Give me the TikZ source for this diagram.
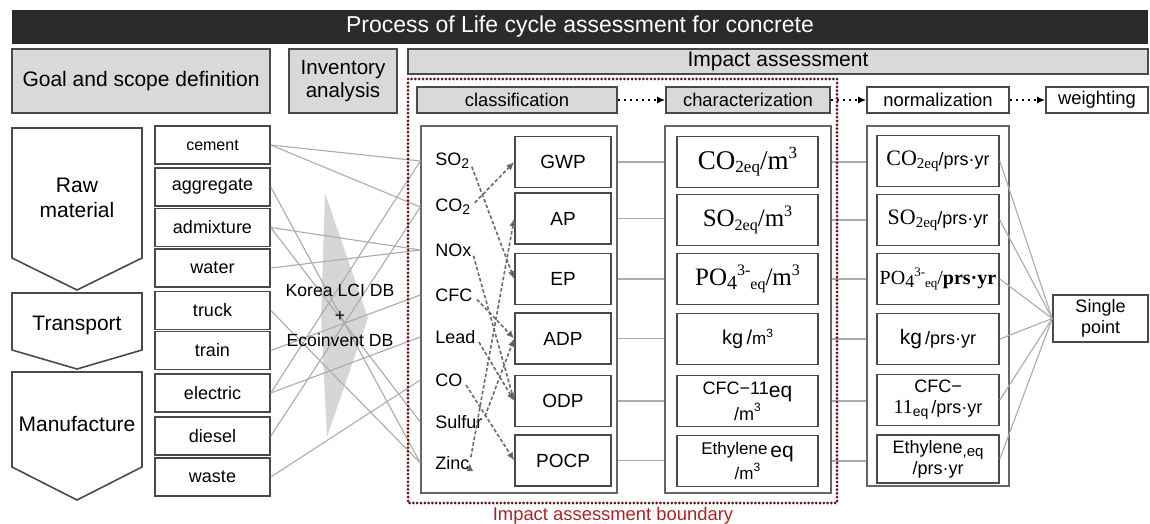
\documentclass[tikz,border=0pt]{standalone}
\usepackage{fontspec}
\setmainfont{Liberation Sans}
\newfontfamily\sr{Liberation Serif}
\usetikzlibrary{arrows.meta}
\definecolor{barc}{HTML}{2B2B2B}
\definecolor{boxgray}{HTML}{D9D9D9}
\definecolor{edgec}{HTML}{4A4A4A}
\definecolor{linec}{HTML}{ABABAB}
\definecolor{dashc}{HTML}{6B6B6B}
\definecolor{bndc}{HTML}{6A0E0E}
\definecolor{bndtext}{HTML}{B02020}
\newcommand{\sbs}[2][7]{\raisebox{-0.3ex}{\fontsize{#1}{#1}\selectfont #2}}
\newcommand{\sps}[2][7]{\raisebox{0.85ex}{\fontsize{#1}{#1}\selectfont #2}}
\begin{document}
\begin{tikzpicture}[x=0.5pt, y=-0.5pt, >={Latex[length=4pt,width=3.5pt]},
    phase/.style={rectangle, draw=edgec, line width=0.8pt, fill=boxgray, inner sep=0pt, font=\fontsize{9.2}{11}\selectfont},
    plain/.style={rectangle, draw=edgec, line width=0.8pt, fill=white, inner sep=0pt},
    input/.style={plain, minimum width=57.5pt, minimum height=19pt, font=\fontsize{9}{10}\selectfont},
    cat/.style={plain, minimum width=48pt, minimum height=25.5pt, font=\fontsize{9.5}{11}\selectfont},
    unit/.style={plain, minimum width=70.5pt, minimum height=25.5pt, align=center, font=\fontsize{9}{10.5}\selectfont},
    nunit/.style={plain, minimum width=61pt, minimum height=25.5pt, align=center, font=\fontsize{9}{10.5}\selectfont},
    group/.style={rectangle, draw=gray!80!black, line width=0.7pt, inner sep=0pt},
    gas/.style={anchor=west, inner sep=0pt, font=\fontsize{9}{10}\selectfont},
    link/.style={draw=linec, line width=0.55pt},
    flow/.style={->, draw=dashc, line width=0.8pt, dash pattern=on 1.8pt off 1.1pt, shorten <=3pt}]
  \tikzstyle{every node}=[font=\fontsize{10.5}{12.5}\selectfont]
  \useasboundingbox (0,0) rectangle (1150,524);

  % header rows
  \node[rectangle, fill=barc, minimum width=568pt, minimum height=15pt, text=white, font=\fontsize{11.5}{13}\selectfont] (title) at (580,27) {Process of Life cycle assessment for concrete};
  \node[phase, minimum width=129pt, minimum height=32pt, font=\fontsize{10.5}{12}\selectfont] (goal) at (141,81) {Goal and scope definition};
  \node[phase, minimum width=54pt, minimum height=32pt, align=center, font=\fontsize{10.3}{11.5}\selectfont] (inv) at (343,81) {Inventory\\analysis};
  \node[phase, minimum width=370pt, minimum height=12.5pt, font=\fontsize{10.5}{12}\selectfont] (imp) at (778,61.5) {Impact assessment};
  \node[phase, minimum width=100pt, minimum height=13pt] (clas) at (517,100) {classification};
  \node[phase, minimum width=82pt, minimum height=13pt] (char) at (748,100) {characterization};
  \node[plain, minimum width=71pt, minimum height=13pt, font=\fontsize{9.2}{11}\selectfont] (norm) at (938,100) {normalization};
  \node[plain, minimum width=51pt, minimum height=13pt, font=\fontsize{9.2}{11}\selectfont] (wgt) at (1097,100) {weighting};
  \draw[->, dotted, line width=1pt] (clas) -- (char);
  \draw[->, dotted, line width=1pt] (char) -- (norm);
  \draw[->, dotted, line width=1pt] (norm) -- (wgt);

  % life cycle stages
  \draw[edgec, line width=0.8pt] (12,128) -- (142,128) -- (142,258) -- (77,290) -- (12,258) -- cycle;
  \draw[edgec, line width=0.8pt] (12,293) -- (142,293) -- (142,350) -- (77,369) -- (12,350) -- cycle;
  \draw[edgec, line width=0.8pt] (12,372) -- (142,372) -- (142,467) -- (77,500) -- (12,467) -- cycle;
  \node[align=center] (raw) at (77,198) {Raw\\material};
  \node (trans) at (77,325) {Transport};
  \node (manu) at (77,424) {Manufacture};

  % inventory inputs
  \node[input, font=\fontsize{8}{9}\selectfont] (cem) at (212.5,145) {cement};
  \node[input] (agg) at (212.5,187) {aggregate};
  \node[input] (adm) at (212.5,227.5) {admixture};
  \node[input] (wat) at (212.5,268) {water};
  \node[input] (trk) at (212.5,310.5) {truck};
  \node[input] (trn) at (212.5,350.5) {train};
  \node[input] (ele) at (212.5,393) {electric};
  \node[input] (die) at (212.5,436) {diesel};
  \node[input] (was) at (212.5,477) {waste};

  \fill[gray!32] (325,193) -- (368,318) -- (327,437) -- (321,318) -- cycle;

  % classification
  \node[group, minimum width=98pt, minimum height=183.5pt] (cls) at (519,309.5) {};
  \node[gas] (so2) at (435,161) {SO\sbs{2}};
  \node[gas] (co2) at (435,207) {CO\sbs{2}};
  \node[gas] (nox) at (435,250) {NOx};
  \node[gas] (cfc) at (435,295) {CFC};
  \node[gas] (lead) at (435,337) {Lead};
  \node[gas] (co) at (435,380) {CO};
  \node[gas] (sul) at (435,422) {Sulfur};
  \node[gas] (zinc) at (435,463) {Zinc};

  \node[cat] (gwp) at (563,162) {GWP};
  \node[cat] (ap) at (563,218.5) {AP};
  \node[cat] (ep) at (563,279) {EP};
  \node[cat] (adp) at (563,338.5) {ADP};
  \node[cat] (odp) at (563,401) {ODP};
  \node[cat] (pocp) at (563,460.5) {POCP};

  \path[link] (cem.east) edge (cls.west |- so2)
                         edge (cls.west |- co2)
              (agg.east) edge (cls.west |- zinc)
              (adm.east) edge (cls.west |- nox)
                         edge (cls.west |- sul)
              (wat.east) edge (cls.west |- nox)
              (trk.east) edge (cls.west |- zinc)
              (trn.east) edge (cls.west |- cfc)
              (ele.east) edge (cls.west |- so2)
                         edge (cls.west |- lead)
              (die.east) edge (cls.west |- co2)
              (was.east) edge (cls.west |- co);

  \node[align=center, font=\fontsize{8.8}{12.5}\selectfont] (db) at (340,315) {Korea LCI DB\\+\\Ecoinvent DB};

  \path[flow] (so2.east) edge (ep.west)
              (co2.east) edge (gwp.west)
              (nox.east) edge (odp.west)
              (cfc.east) edge (adp.west)
              (lead.east) edge (odp.west)
              (co.east) edge (pocp.west)
              (sul.east) edge (adp.west)
              (zinc.east) edge (ap.west);

  % characterization
  \node[group, minimum width=83pt, minimum height=183.5pt] (chr) at (748,309.5) {};
  \node[unit] (c1) at (747.5,162) {\sr\fontsize{13.5}{14}\selectfont CO\sbs[8.5]{2eq}/m\sps[8.5]{3}};
  \node[unit] (c2) at (747.5,220) {\sr\fontsize{12.5}{14}\selectfont SO\sbs[8]{2eq}/m\sps[8]{3}};
  \node[unit] (c3) at (747.5,279) {\sr\fontsize{12.5}{14}\selectfont PO\sbs[10]{4}\sps[8]{3-}\sbs[8]{eq}/m\sps[8]{3}};
  \node[unit] (c4) at (747.5,339) {\fontsize{10}{11}\selectfont kg\,/\fontsize{8.5}{9}\selectfont m\sps[6]{3}};
  \node[unit] (c5) at (747.5,401) {CFC−11\sbs[10.5]{eq}\\/m\sps[6]{3}};
  \node[unit, font=\fontsize{8.5}{10}\selectfont] (c6) at (747.5,461) {Ethylene\,\sbs[10.5]{eq}\\/m\sps[6]{3}};

  \path[link] (cls.east |- gwp) edge (chr.west |- gwp)
              (cls.east |- ap) edge (chr.west |- ap)
              (cls.east |- ep) edge (chr.west |- ep)
              (cls.east |- adp) edge (chr.west |- adp)
              (cls.east |- odp) edge (chr.west |- odp)
              (cls.east |- pocp) edge (chr.west |- pocp);

  % normalization
  \node[group, minimum width=71pt, minimum height=180pt] (nrm) at (938,306) {};
  \node[nunit] (n1) at (938,161) {{\sr\fontsize{11}{12}\selectfont CO\sbs[7.5]{2eq}}/prs·yr};
  \node[nunit] (n2) at (938,220) {{\sr\fontsize{11}{12}\selectfont SO\sbs[7.5]{2eq}}/prs·yr};
  \node[nunit] (n3) at (938,279) {\sr\fontsize{10}{12}\selectfont PO\sbs[9]{4}\sps[6.5]{3-}\sbs[6.5]{eq}/\textbf{prs·yr}};
  \node[nunit] (n4) at (938,339) {{\fontsize{10.5}{12}\selectfont kg}\,/prs·yr};
  \node[nunit] (n5) at (938,400) {CFC−\\{\sr\fontsize{10}{11}\selectfont 11}\sbs[7]{eq}\,/prs·yr};
  \node[nunit, minimum height=24pt] (n6) at (938,459) {Ethylene\sbs[7.5]{,eq}\\/prs·yr};

  \path[link] (chr.east |- c1) edge (nrm.west |- c1)
              (chr.east |- c2) edge (nrm.west |- c2)
              (chr.east |- c3) edge (nrm.west |- c3)
              (chr.east |- c4) edge (nrm.west |- c4)
              (chr.east |- c5) edge (nrm.west |- c5)
              (chr.east |- c6) edge (nrm.west |- c6);

  % weighting
  \node[plain, minimum width=47.5pt, minimum height=23.5pt, align=center, font=\fontsize{9}{10.5}\selectfont] (sp) at (1100.5,318.5) {Single\\point};
  \path[link] (n1.east) edge (sp.west)
              (n2.east) edge (sp.west)
              (n3.east) edge (sp.west)
              (n4.east) edge (sp.west)
              (n5.east) edge (sp.west)
              (n6.east) edge (sp.west);

  % boundary
  \draw[bndc, line width=1.5pt, line cap=round, dash pattern=on 0pt off 1.9pt] (408,79) rectangle (837,503);
  \node[text=bndtext, font=\fontsize{9.2}{10}\selectfont] (bnd) at (613,516) {Impact assessment boundary};
\end{tikzpicture}
\end{document}
